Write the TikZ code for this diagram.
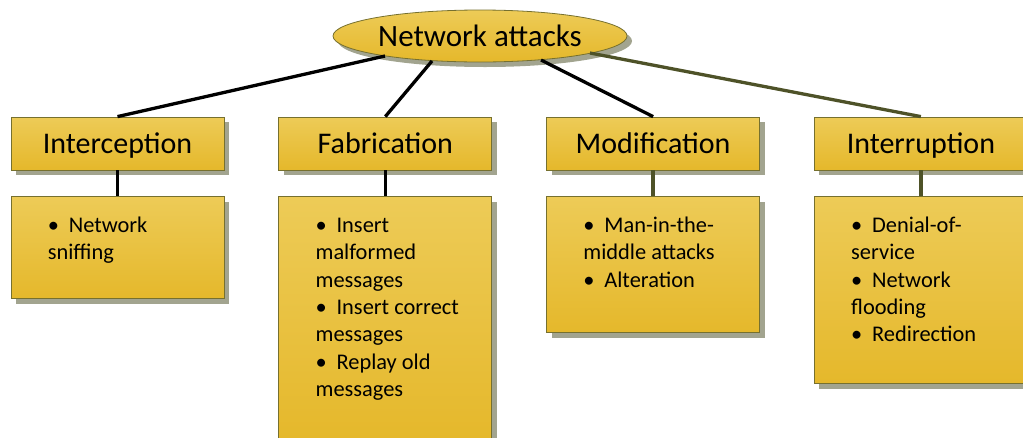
\documentclass[tikz,border=0pt]{standalone}
\usepackage{fontspec}
\setmainfont{Carlito}
\usetikzlibrary{positioning, shapes.geometric, shadows}
\definecolor{goldtop}{HTML}{EDCB57}
\definecolor{goldbot}{HTML}{E5B82B}
\definecolor{olivelink}{HTML}{4E5228}
\definecolor{goldedge}{HTML}{76702F}
\definecolor{shadegray}{HTML}{A2A48F}
\newcommand{\itm}{\makebox[21pt][l]{\textbullet}}
\newcommand{\firstln}{\rule{0pt}{18pt}}

\begin{document}
\begin{tikzpicture}[x=1pt, y=-1pt,
  node distance=26pt and 54pt,
  gold/.style={draw=goldedge, line width=0.8pt, top color=goldtop, bottom color=goldbot, inner sep=0pt,
    drop shadow={shadow xshift=5pt, shadow yshift=-5pt, fill=shadegray, opacity=1}},
  head/.style={gold, minimum width=213pt, minimum height=53pt,
    font=\fontsize{30}{35}\selectfont, text height=19.5pt, text depth=0pt},
  detail/.style={gold, minimum width=213pt},
  items/.style={anchor=north west, inner sep=0pt, align=left, font=\fontsize{22.4}{27.3}\selectfont},
  link/.style={line width=3.3pt},
  olink/.style={link, draw=olivelink}
]
  \useasboundingbox (0,0) rectangle (1023,437);

  % top
  \node[gold, ellipse, minimum width=294pt, minimum height=52pt,
        font=\fontsize{31}{36}\selectfont, text height=20pt, text depth=0pt] (title) at (480,36) {Network attacks};

  % categories
  \node[head] (intc) at (117.5,143.5) {Interception};
  \node[head, right=of intc] (fabr) {Fabrication};
  \node[head, right=of fabr] (modi) {Modification};
  \node[head, right=of modi] (intr) {Interruption};

  % details
  \node[detail, minimum height=102pt, below=of intc] (intcd) {};
  \node[detail, minimum height=244pt, below=of fabr] (fabrd) {};
  \node[detail, minimum height=136pt, below=of modi] (modid) {};
  \node[detail, minimum height=187pt, below=of intr] (intrd) {};

  \node[items] (intct) at ([xshift=37pt, yshift=-18pt]intcd.north west)
    {\firstln\itm Network\\sniffing};
  \node[items] (fabrt) at ([xshift=37pt, yshift=-18pt]fabrd.north west)
    {\firstln\itm Insert\\malformed\\messages\\\itm Insert correct\\messages\\\itm Replay old\\messages};
  \node[items] (modit) at ([xshift=37pt, yshift=-18pt]modid.north west)
    {\firstln\itm Man-in-the-\\middle attacks\\\itm Alteration};
  \node[items] (intrt) at ([xshift=37pt, yshift=-18pt]intrd.north west)
    {\firstln\itm Denial-of-\\service\\\itm Network\\flooding\\\itm Redirection};

  % links
  \coordinate (tintc) at (385,56);
  \coordinate (tfabr) at (432,61);
  \coordinate (tmodi) at (541,60);
  \coordinate (tintr) at (590,53);
  \draw[link] (intc.north) -- (tintc);
  \draw[link] (fabr.north) -- (tfabr);
  \draw[link] (modi.north) -- (tmodi);
  \draw[olink] (intr.north) -- (tintr);

  \draw[link] (intc) -- (intcd);
  \draw[link] (fabr) -- (fabrd);
  \draw[olink] (modi) -- (modid);
  \draw[olink] (intr) -- (intrd);
\end{tikzpicture}
\end{document}
